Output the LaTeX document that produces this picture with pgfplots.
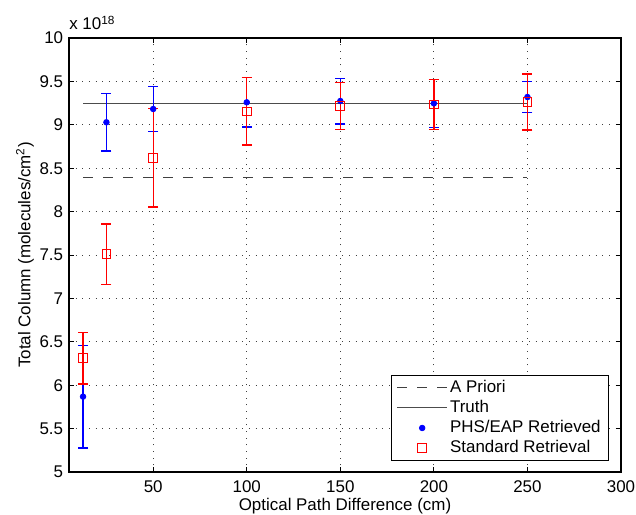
\documentclass[border=0pt]{standalone}
\usepackage{fontspec}
\setmainfont{Liberation Sans}
\usepackage{pgfplots}
\pgfplotsset{compat=1.18}
\usepackage{pgfplotstable}

% Retrieved total columns (units of 1e18 molecules/cm^2) and 1-sigma errors
\pgfplotstableread{
x     y      e
12.5  5.868  0.593
25    9.029  0.330
50    9.182  0.261
100   9.259  0.286
150   9.274  0.263
200   9.247  0.277
250   9.320  0.175
}\phsdata
\pgfplotstableread{
x     y      e
12.5  6.310  0.295
25    7.508  0.350
50    8.618  0.566
100   9.155  0.388
150   9.217  0.271
200   9.232  0.286
250   9.263  0.323
}\stddata

\begin{document}
\fontsize{12.7}{15}\selectfont
\begin{tikzpicture}[font=\fontsize{12.7}{15}\selectfont]
\begin{axis}[
  scale only axis,
  width=414pt, height=325.5pt,
  xmin=5, xmax=300, ymin=5, ymax=10,
  xtick={50,100,...,300},
  ytick={5,5.5,...,10},
  /pgf/number format/assume math mode=true,
  yticklabel style={/pgf/number format/fixed},
  tick align=inside,
  major tick length=4pt,
  tick style={draw=black, line width=0.6pt},
  axis line style={draw=black, line width=1pt},
  grid=major,
  major grid style={draw=black!75, line width=0.7pt, dash pattern=on 0.8pt off 4.2pt},
  xticklabel style={yshift=-2pt},
  xlabel={Optical Path Difference (cm)},
  ylabel={Total Column (molecules/cm\textsuperscript{2})},
  xlabel style={at={(axis description cs:0.5,0)}, anchor=center, yshift=-25.5pt},
  ylabel style={at={(axis description cs:-0.0797,0.5)}, anchor=center},
  legend image code/.code={%
    \draw[mark repeat=2, mark phase=2, #1]
      plot coordinates {(0pt,0pt) (18.75pt,0pt) (37.5pt,0pt)};},
  legend cell align=left,
  legend style={at={(1,0)}, anchor=south east, xshift=-9pt, yshift=8.25pt,
    draw=black, line width=0.9pt, inner xsep=4pt, inner ysep=1.5pt,
    nodes={inner sep=1.8pt, text height=9.3pt, text depth=2.3pt},
    font=\fontsize{12.7}{15}\selectfont},
  % vertical error bars with short horizontal caps
  errbars/.style={error bars/.cd, y dir=both, y explicit,
    error bar style={draw=#1, line width=1pt, solid},
    error mark options={rotate=90, mark size=3.75pt, line width=1pt, draw=#1, solid}},
]
\coordinate (sw) at (rel axis cs:0,0);
\coordinate (ne) at (rel axis cs:1,1);
\coordinate (nw) at (rel axis cs:0,1);

\addplot[draw=black!75, line width=0.75pt, dash pattern=on 7.5pt off 7.5pt]
  coordinates {(12.5,8.395) (250,8.395)};
\addlegendentry{A Priori}
\addplot[draw=black!70, line width=0.75pt]
  coordinates {(12.5,9.243) (250,9.243)};
\addlegendentry{Truth}

\addplot[draw=blue, only marks, mark=*, mark size=2.1pt,
  mark options={draw=blue, fill=blue, line width=0.6pt}, errbars=blue]
  table[x=x, y=y, y error=e] {\phsdata};
\addlegendentry{PHS/EAP Retrieved}

\addplot[draw=red, only marks, mark=square, mark size=3.25pt,
  mark options={draw=red, line width=0.75pt}, errbars=red]
  table[x=x, y=y, y error=e] {\stddata};
\addlegendentry{Standard Retrieval}
\end{axis}

% common scale factor of the y axis
\node[anchor=base west, inner sep=0pt] at ([yshift=6pt]nw)
  {x 10\textsuperscript{18}};

\pgfresetboundingbox
\path[use as bounding box]
  ([shift={(-51.75pt,-32.25pt)}]sw) rectangle ([shift={(11.25pt,28.5pt)}]ne);
\end{tikzpicture}
\end{document}
